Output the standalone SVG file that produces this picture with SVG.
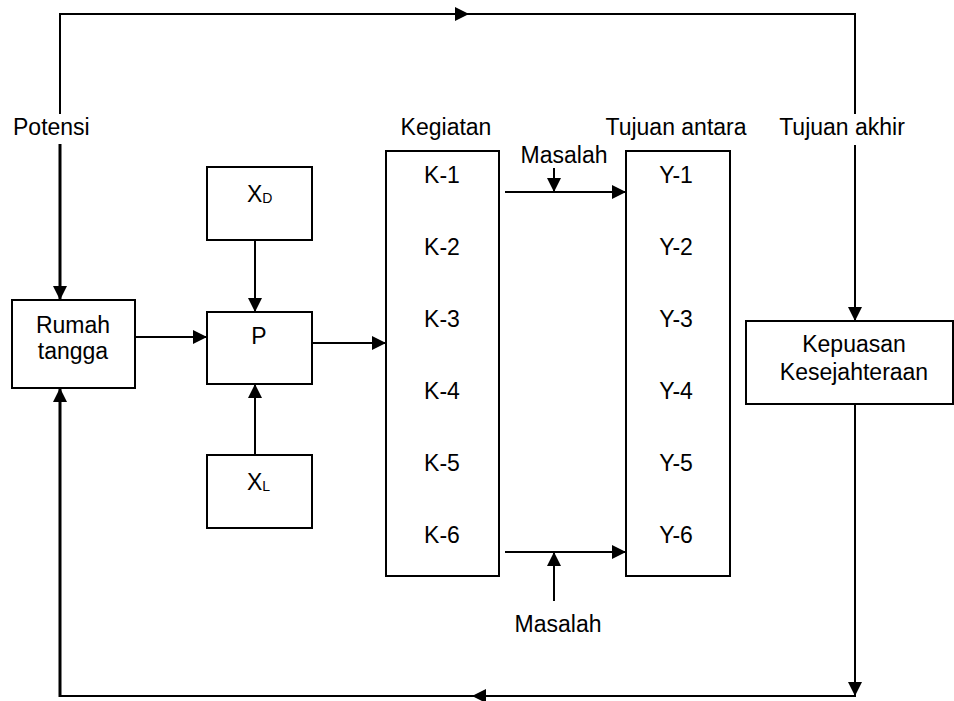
<svg xmlns="http://www.w3.org/2000/svg" width="954" height="701" viewBox="0 0 954 701">
<defs>
<marker id="ah" viewBox="0 0 14 14" refX="14" refY="7" markerWidth="14" markerHeight="14" markerUnits="userSpaceOnUse" orient="auto">
<path d="M0,0 L14,7 L0,14 z" fill="#000"/>
</marker>
<style>
.box{fill:#fff;stroke:#000;stroke-width:2}
.ln{fill:none;stroke:#000;stroke-width:2}
.thick{stroke-width:3}
.arr{marker-end:url(#ah)}
text{font-family:"Liberation Sans",Arial,sans-serif;font-size:23px;fill:#000}
.c{text-anchor:middle}
.sub{font-size:14px}
</style>
</defs>
<rect width="954" height="701" fill="#fff"/>
<g id="connectors">
<path class="ln" d="M60,114 L60,14 L855,14 L855,114"/>
<path class="ln arr" d="M60,14 L469,14"/>
<path class="ln thick arr" d="M60,144 L60,300"/>
<path class="ln arr" d="M855,145 L855,321"/>
<path class="ln" d="M855,404 L855,696 L60,696"/>
<path class="ln arr" d="M855,404 L855,696"/>
<path class="ln arr" d="M855,696 L472,696"/>
<path class="ln thick arr" d="M60,697 L60,388"/>
<path class="ln arr" d="M135,337 L207,337"/>
<path class="ln arr" d="M255,240 L255,312"/>
<path class="ln arr" d="M255,455 L255,384"/>
<path class="ln arr" d="M312,343 L386,343"/>
<path class="ln arr" d="M505,192 L626,192"/>
<path class="ln arr" d="M554,168 L554,192"/>
<path class="ln arr" d="M505,552 L626,552"/>
<path class="ln arr" d="M554,601 L554,552"/>
</g>
<g id="label-potensi"><text x="13" y="135">Potensi</text></g>
<g id="label-kegiatan"><text x="446" y="135" class="c">Kegiatan</text></g>
<g id="label-tujuan-antara"><text x="676" y="135" class="c">Tujuan antara</text></g>
<g id="label-tujuan-akhir"><text x="842" y="135" class="c">Tujuan akhir</text></g>
<g id="label-masalah-top"><text x="564" y="163" class="c">Masalah</text></g>
<g id="label-masalah-bottom"><text x="558" y="632" class="c">Masalah</text></g>
<g id="node-rumah">
<rect class="box" x="12" y="300" width="123" height="88"/>
<text x="73" y="333" class="c">Rumah</text>
<text x="73" y="359" class="c">tangga</text>
</g>
<g id="node-xd">
<rect class="box" x="207" y="167" width="105" height="73"/>
<text x="247" y="202">X<tspan class="sub" dy="1">D</tspan></text>
</g>
<g id="node-p">
<rect class="box" x="207" y="312" width="105" height="72"/>
<text x="259" y="344" class="c">P</text>
</g>
<g id="node-xl">
<rect class="box" x="207" y="455" width="105" height="73"/>
<text x="247" y="490">X<tspan class="sub" dy="1">L</tspan></text>
</g>
<g id="node-kegiatan">
<rect class="box" x="386" y="151" width="113" height="425"/>
<text x="442" y="183" class="c">K-1</text>
<text x="442" y="255" class="c">K-2</text>
<text x="442" y="327" class="c">K-3</text>
<text x="442" y="399" class="c">K-4</text>
<text x="442" y="471" class="c">K-5</text>
<text x="442" y="543" class="c">K-6</text>
</g>
<g id="node-tujuan">
<rect class="box" x="626" y="151" width="104" height="425"/>
<text x="676" y="183" class="c">Y-1</text>
<text x="676" y="255" class="c">Y-2</text>
<text x="676" y="327" class="c">Y-3</text>
<text x="676" y="399" class="c">Y-4</text>
<text x="676" y="471" class="c">Y-5</text>
<text x="676" y="543" class="c">Y-6</text>
</g>
<g id="node-kepuasan">
<rect class="box" x="746" y="321" width="207" height="83"/>
<text x="854" y="352" class="c">Kepuasan</text>
<text x="854" y="380" class="c">Kesejahteraan</text>
</g>
</svg>
